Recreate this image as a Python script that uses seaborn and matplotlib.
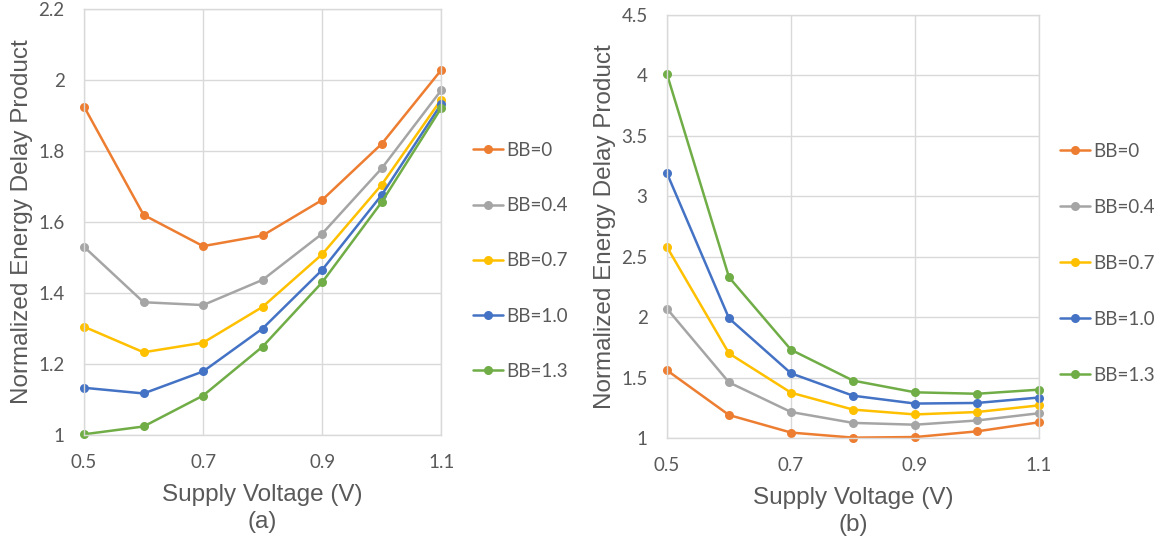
import matplotlib
matplotlib.use("Agg")
import matplotlib.pyplot as plt
import seaborn as sns
import pandas as pd

voltages = [0.5, 0.6, 0.7, 0.8, 0.9, 1.0, 1.1]
series_names = ["BB=0", "BB=0.4", "BB=0.7", "BB=1.0", "BB=1.3"]

edp_a_bb0 = [1.925, 1.62, 1.532, 1.562, 1.662, 1.82, 2.028]
edp_a_bb04 = [1.53, 1.374, 1.366, 1.437, 1.567, 1.751, 1.971]
edp_a_bb07 = [1.305, 1.233, 1.26, 1.361, 1.509, 1.705, 1.945]
edp_a_bb10 = [1.133, 1.117, 1.179, 1.300, 1.465, 1.676, 1.932]
edp_a_bb13 = [1.002, 1.024, 1.111, 1.249, 1.430, 1.656, 1.921]

edp_b_bb0 = [1.56, 1.19, 1.045, 1.003, 1.008, 1.055, 1.13]
edp_b_bb04 = [2.07, 1.46, 1.215, 1.125, 1.11, 1.145, 1.205]
edp_b_bb07 = [2.58, 1.70, 1.375, 1.235, 1.195, 1.215, 1.27]
edp_b_bb10 = [3.19, 1.99, 1.535, 1.35, 1.285, 1.29, 1.335]
edp_b_bb13 = [4.01, 2.33, 1.73, 1.475, 1.378, 1.366, 1.40]

colors = ["#ED7D31", "#A5A5A5", "#FFC000", "#4472C4", "#70AD47"]

xticks = [0.5, 0.7, 0.9, 1.1]
xticklabels = ["0.5", "0.7", "0.9", "1.1"]
yticks_a = [1, 1.2, 1.4, 1.6, 1.8, 2, 2.2]
yticklabels_a = ["1", "1.2", "1.4", "1.6", "1.8", "2", "2.2"]
yticks_b = [1, 1.5, 2, 2.5, 3, 3.5, 4, 4.5]
yticklabels_b = ["1", "1.5", "2", "2.5", "3", "3.5", "4", "4.5"]

def make_df(arrs):
    rows = []
    for name, vals in zip(series_names, arrs):
        for v, e in zip(voltages, vals):
            rows.append({"V": v, "EDP": e, "BB": name})
    return pd.DataFrame(rows)

df_a = make_df([edp_a_bb0, edp_a_bb04, edp_a_bb07, edp_a_bb10, edp_a_bb13])
df_b = make_df([edp_b_bb0, edp_b_bb04, edp_b_bb07, edp_b_bb10, edp_b_bb13])

sns.set_theme(style="white")
plt.rcParams["font.family"] = ["Liberation Sans", "DejaVu Sans"]

fig = plt.figure(figsize=(11.61, 5.46), dpi=100)
ax_a = fig.add_axes([0.0724, 0.2033, 0.3076, 0.7802])
ax_b = fig.add_axes([0.5745, 0.1978, 0.3205, 0.7747])

text_color = "#595959"
grid_color = "#D9D9D9"

def style(ax, df, yticks, yticklabels, ylim, sub, leg_x, leg_y, lspace):
    sns.lineplot(data=df, x="V", y="EDP", hue="BB", hue_order=series_names,
                 palette=colors, marker="o", markersize=6.5, markeredgewidth=0,
                 linewidth=1.8, ax=ax, legend=True)
    ax.set_xlim(0.5, 1.1)
    ax.set_ylim(*ylim)
    ax.set_xticks(xticks)
    ax.set_xticklabels(xticklabels, fontfamily="Lato", fontsize=13.5, color=text_color)
    ax.set_yticks(yticks)
    ax.set_yticklabels(yticklabels, fontfamily="Lato", fontsize=13.5, color=text_color)
    ax.tick_params(axis="x", length=0, pad=14)
    ax.tick_params(axis="y", length=0, pad=14)
    ax.grid(True, color=grid_color, linewidth=1)
    for s in ax.spines.values():
        s.set_color(grid_color)
        s.set_linewidth(1)
    for line in ax.get_lines():
        line.set_clip_on(False)
    ax.set_xlabel("Supply Voltage (V)\n" + sub, fontsize=17.5, color=text_color,
                  linespacing=1.3, labelpad=9)
    ax.set_ylabel("Normalized Energy Delay Product", fontsize=17.5, color=text_color,
                  labelpad=4)
    handles, labels = ax.get_legend_handles_labels()
    ax.legend(handles, labels, loc="upper left", bbox_to_anchor=(leg_x, leg_y),
              bbox_transform=fig.transFigure, frameon=False,
              prop={"family": "Lato", "size": 13.5}, labelcolor=text_color,
              handlelength=1.6, handletextpad=0.18, labelspacing=lspace,
              borderaxespad=0, borderpad=0)

style(ax_a, df_a, yticks_a, yticklabels_a, (1, 2.2), "(a)", 0.4074, 0.740, 2.04)
style(ax_b, df_b, yticks_b, yticklabels_b, (1, 4.5), "(b)", 0.913, 0.738, 2.08)

fig.savefig("out.png", dpi=100)
